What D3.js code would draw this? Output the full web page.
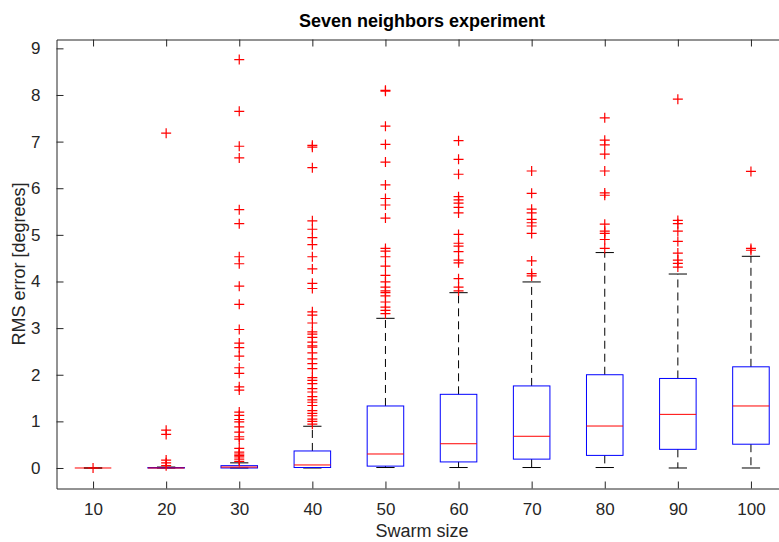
<!DOCTYPE html>
<html>
<head>
<meta charset="utf-8">
<script src="https://cdn.jsdelivr.net/npm/d3@7"></script>
<style>
  body { margin: 0; background: #fff; }
  svg { display: block; font-family: 'Liberation Sans', Arial, sans-serif; }
  .tick text { fill: #262626; font-size: 17px; }
</style>
</head>
<body>
<svg id="chart" width="779" height="542"></svg>
<script>
// swarm sizes and box statistics
let swarmSizes = [10, 20, 30, 40, 50, 60, 70, 80, 90, 100];
let q1 = [0, 0, 0, 0.01, 0.04, 0.13, 0.19, 0.27, 0.40, 0.51];
let medians = [0, 0, 0.02, 0.065, 0.30, 0.52, 0.68, 0.90, 1.15, 1.33];
let q3 = [0, 0.01, 0.05, 0.365, 1.33, 1.58, 1.76, 2.00, 1.92, 2.17];
let whiskerLow = [0, 0, 0, 0, 0.01, 0.01, 0.01, 0.01, 0, 0];
let whiskerHigh = [0, 0.02, 0.11, 0.895, 3.21, 3.76, 3.99, 4.62, 4.16, 4.54];
let outliers = [
  [0],
  [7.18, 0.81, 0.72, 0.17, 0.11, 0.05],
  [8.76, 7.65, 6.90, 6.65, 5.54, 5.24, 4.53, 4.38, 3.90, 3.51, 2.97, 2.68, 2.58, 2.40, 2.15,
    2.03, 1.74, 1.67, 1.20, 1.13, 1.04, 0.99, 0.88, 0.77, 0.67, 0.62, 0.42, 0.34, 0.30, 0.27,
    0.24, 0.19, 0.14],
  [6.92, 6.88, 6.44, 5.30, 5.12, 4.94, 4.79, 4.53, 4.27, 3.96, 3.85, 3.35, 3.28, 3.11, 2.92,
    2.87, 2.80, 2.70, 2.62, 2.59, 2.47, 2.34, 2.24, 2.13, 1.94, 1.88, 1.81, 1.70, 1.63, 1.53,
    1.46, 1.41, 1.34, 1.23, 1.17, 1.12, 1.05, 1.00, 0.94],
  [8.10, 8.08, 7.33, 6.94, 6.56, 6.07, 5.78, 5.64, 5.36, 4.71, 4.65, 4.53, 4.33, 4.13, 3.99,
    3.88, 3.80, 3.76, 3.69, 3.56, 3.45, 3.38, 3.31],
  [7.02, 6.62, 6.30, 5.82, 5.75, 5.68, 5.59, 5.47, 5.01, 4.82, 4.76, 4.64, 4.46, 4.40, 4.06,
    3.88, 3.80],
  [6.37, 5.89, 5.55, 5.47, 5.33, 5.26, 5.19, 5.03, 4.44, 4.17, 4.12],
  [7.51, 7.03, 6.93, 6.73, 6.37, 5.90, 5.85, 5.23, 5.08, 5.03, 4.90, 4.71],
  [7.91, 5.31, 5.24, 5.08, 4.86, 4.61, 4.46, 4.39, 4.31],
  [6.36, 4.71, 4.67]
];
let yTicks = [0, 1, 2, 3, 4, 5, 6, 7, 8, 9];

let margin = { left: 56.5, top: 39.5 };
let width = 731;
let height = 449;
let axisColor = '#262626';

let svg = d3.select('#chart');
let g = svg.append('g')
  .attr('transform', 'translate(' + margin.left + ',' + margin.top + ')');

let x = d3.scaleLinear().domain([0.5, 10.5]).range([0, width]);
let y = d3.scaleLinear().domain([-0.44, 9.19]).range([height, 0]);
let step = x(2) - x(1);
let boxW = step / 2;
let capW = step / 4;

let groups = swarmSizes.map((s, i) => ({
  pos: i + 1,
  label: s,
  q1: q1[i],
  med: medians[i],
  q3: q3[i],
  lo: whiskerLow[i],
  hi: whiskerHigh[i],
  out: outliers[i]
}));

// axes: ticks point inward like matlab
let xTickVals = groups.map(d => d.pos);
let xLabel = v => swarmSizes[v - 1];

g.append('g')
  .attr('transform', 'translate(0,' + height + ')')
  .call(d3.axisBottom(x).tickValues(xTickVals).tickFormat(xLabel).tickSizeInner(-7).tickSizeOuter(0).tickPadding(14));
g.append('g')
  .call(d3.axisTop(x).tickValues(xTickVals).tickFormat('').tickSizeInner(-7).tickSizeOuter(0));
g.append('g')
  .call(d3.axisLeft(y).tickValues(yTicks).tickSizeInner(-7).tickSizeOuter(0).tickPadding(16));

g.selectAll('.domain, .tick line').attr('stroke', axisColor);

let boxes = g.append('g').selectAll('g')
  .data(groups)
  .enter().append('g')
  .attr('transform', d => 'translate(' + x(d.pos) + ',0)');

// whiskers
boxes.append('line')
  .attr('y1', d => y(d.q3)).attr('y2', d => y(d.hi))
  .attr('stroke', '#000').attr('stroke-dasharray', '8,5');
boxes.append('line')
  .attr('y1', d => y(d.q1)).attr('y2', d => y(d.lo))
  .attr('stroke', '#000').attr('stroke-dasharray', '8,5');
boxes.append('line')
  .attr('x1', -capW / 2).attr('x2', capW / 2)
  .attr('y1', d => y(d.hi)).attr('y2', d => y(d.hi))
  .attr('stroke', '#000');
boxes.append('line')
  .attr('x1', -capW / 2).attr('x2', capW / 2)
  .attr('y1', d => y(d.lo)).attr('y2', d => y(d.lo))
  .attr('stroke', '#000');

boxes.append('rect')
  .attr('x', -boxW / 2).attr('width', boxW)
  .attr('y', d => y(d.q3))
  .attr('height', d => Math.max(0, y(d.q1) - y(d.q3)))
  .attr('fill', 'none').attr('stroke', '#0000ff');
boxes.append('line')
  .attr('x1', -boxW / 2).attr('x2', boxW / 2)
  .attr('y1', d => y(d.med)).attr('y2', d => y(d.med))
  .attr('stroke', '#ff0000');

// outliers as red plus signs
let arm = 5;
boxes.selectAll('path.out')
  .data(d => d.out)
  .enter().append('path')
  .attr('class', 'out')
  .attr('d', v => 'M' + (-arm) + ',' + y(v) + 'H' + arm +
    'M0,' + (y(v) - arm) + 'V' + (y(v) + arm))
  .attr('stroke', '#ff0000').attr('stroke-width', 1.2).attr('fill', 'none');

svg.append('text')
  .attr('x', margin.left + width / 2).attr('y', 27)
  .attr('text-anchor', 'middle')
  .attr('font-weight', 'bold').attr('font-size', 18)
  .attr('fill', '#000')
  .text('Seven neighbors experiment');

svg.append('text')
  .attr('x', margin.left + width / 2).attr('y', 537)
  .attr('text-anchor', 'middle')
  .attr('font-size', 18).attr('fill', axisColor)
  .text('Swarm size');

svg.append('text')
  .attr('transform', 'translate(25,' + (margin.top + height / 2) + ') rotate(-90)')
  .attr('text-anchor', 'middle')
  .attr('font-size', 18).attr('fill', axisColor)
  .text('RMS error [degrees]');
</script>
</body>
</html>
